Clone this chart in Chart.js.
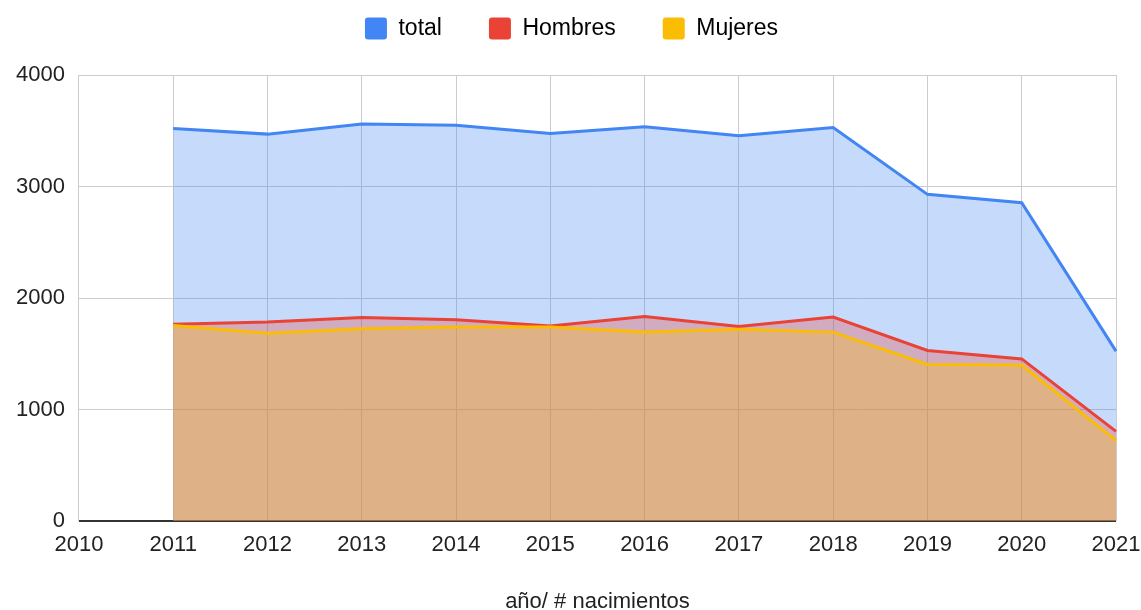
<!DOCTYPE html>
<html>
<head>
<meta charset="utf-8">
<script src="https://cdn.jsdelivr.net/npm/chart.js@4/dist/chart.umd.min.js"></script>
<style>
  html, body { margin: 0; padding: 0; background: #fff; }
  #wrap { width: 1141px; height: 610px; }
</style>
</head>
<body>
<div id="wrap"><canvas id="chart"></canvas></div>
<script>
const years = ['2010', '2011', '2012', '2013', '2014', '2015', '2016', '2017', '2018', '2019', '2020', '2021'];
const total = [null, 3520, 3470, 3560, 3550, 3475, 3535, 3455, 3530, 2930, 2855, 1525];
const hombres = [null, 1765, 1785, 1825, 1805, 1750, 1835, 1745, 1830, 1530, 1455, 805];
const mujeres = [null, 1755, 1685, 1725, 1740, 1740, 1695, 1720, 1695, 1405, 1400, 725];
const yTicks = [0, 1000, 2000, 3000, 4000];

const font = "'Liberation Sans', Arial, sans-serif";
Chart.defaults.font.family = font;
Chart.defaults.color = '#222';

const area = (label, data, color, fill, order) => ({
  label,
  data,
  borderColor: color,
  backgroundColor: fill,
  borderWidth: 3,
  pointRadius: 0,
  pointHoverRadius: 0,
  tension: 0,
  fill: 'origin',
  order
});

// fixed legend block height so the plot starts where the original does
const legendGap = {
  id: 'legendGap',
  beforeInit(chart) {
    const fit = chart.legend.fit;
    chart.legend.fit = function () {
      fit.call(this);
      this.height = 105;
    };
  }
};

new Chart(document.getElementById('chart'), {
  type: 'line',
  data: {
    labels: years,
    datasets: [
      area('total', total, '#4285f4', 'rgba(66,133,244,0.3)', 3),
      area('Hombres', hombres, '#ea4335', 'rgba(234,67,53,0.3)', 2),
      area('Mujeres', mujeres, '#fbbc04', 'rgba(251,188,4,0.3)', 1)
    ]
  },
  plugins: [legendGap],
  options: {
    responsive: true,
    maintainAspectRatio: false,
    animation: false,
    layout: { padding: { top: -30, right: 0, left: 2, bottom: -5 } },
    plugins: {
      legend: {
        position: 'top',
        align: 'center',
        labels: {
          boxWidth: 22,
          boxHeight: 22,
          padding: 47,
          font: { size: 23 },
          color: '#222',
          useBorderRadius: true,
          borderRadius: 3,
          generateLabels: chart => chart.data.datasets.map((ds, i) => ({
            text: ds.label,
            fillStyle: ds.borderColor,
            strokeStyle: ds.borderColor,
            lineWidth: 0,
            borderRadius: 3,
            datasetIndex: i,
            hidden: false
          }))
        }
      },
      tooltip: { enabled: false }
    },
    scales: {
      x: {
        offset: false,
        afterFit: s => { s.paddingRight = 25; },
        grid: { color: '#cccccc', lineWidth: 1, drawTicks: false },
        border: { display: false },
        ticks: { font: { size: 22 }, color: '#222', padding: 11, maxRotation: 0, autoSkip: false },
        title: {
          display: true,
          text: 'año/ # nacimientos',
          font: { size: 22 },
          color: '#222',
          padding: { top: 19, bottom: 0 }
        }
      },
      y: {
        min: 0,
        max: 4000,
        afterBuildTicks: axis => { axis.ticks = yTicks.map(v => ({ value: v })); },
        grid: {
          color: ctx => ctx.tick && ctx.tick.value === 0 ? '#333333' : '#cccccc',
          lineWidth: ctx => ctx.tick && ctx.tick.value === 0 ? 2 : 1,
          drawTicks: false
        },
        border: { display: false },
        ticks: { font: { size: 22 }, color: '#222', padding: 14, callback: v => String(v) }
      }
    }
  }
});
</script>
</body>
</html>
